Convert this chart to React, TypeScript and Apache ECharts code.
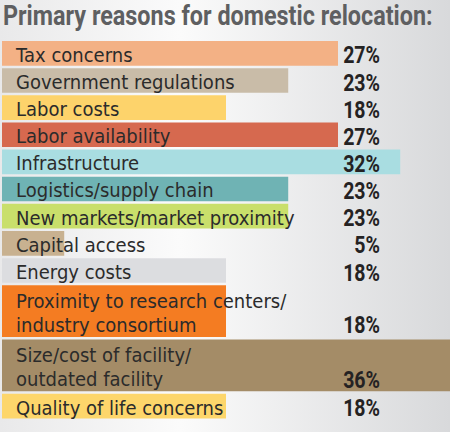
import React, { useEffect, useRef } from "react";
import * as echarts from "echarts";

const title = "Primary reasons for domestic relocation:";
const categories = [
  "Tax concerns",
  "Government regulations",
  "Labor costs",
  "Labor availability",
  "Infrastructure",
  "Logistics/supply chain",
  "New markets/market proximity",
  "Capital access",
  "Energy costs",
  "Proximity to research centers/\nindustry consortium",
  "Size/cost of facility/\noutdated facility",
  "Quality of life concerns",
];
const values = [27, 23, 18, 27, 32, 23, 23, 5, 18, 18, 36, 18];
const colors = [
  "#f3b185",
  "#c9bca8",
  "#fdd36b",
  "#d6694f",
  "#a9dde1",
  "#6fb3b4",
  "#c9df6b",
  "#c8b190",
  "#dcdde0",
  "#f47c22",
  "#a48c67",
  "#fdd66b",
];

const lineCounts = categories.map((c) => c.split("\n").length);
const slotStarts: number[] = [];
lineCounts.reduce((acc, n) => {
  slotStarts.push(acc);
  return acc + n;
}, 0);
const totalSlots = lineCounts.reduce((a, b) => a + b, 0);

function measure(text: string, font: string): number {
  const c = document.createElement("canvas").getContext("2d")!;
  c.font = font;
  return c.measureText(text).width;
}

export default function App() {
  const ref = useRef<HTMLDivElement>(null);
  useEffect(() => {
    const chart = echarts.init(ref.current!, null, { renderer: "svg" });
    const LINE_H = 24;
    const titleFont = "bold 28px Roboto";
    const titleScale = 430 / measure(title, titleFont);
    chart.setOption({
      animation: false,
      backgroundColor: {
        type: "linear",
        x: 0,
        y: 0,
        x2: 1,
        y2: 0,
        colorStops: [
          { offset: 0, color: "#e9e9ea" },
          { offset: 0.4, color: "#fbfbfb" },
          { offset: 1, color: "#d8d9db" },
        ],
      },
      graphic: [
        {
          type: "text",
          x: 3,
          y: 15,
          scaleX: titleScale,
          style: {
            text: title,
            fontFamily: "Roboto",
            fontWeight: "bold",
            fontSize: 28,
            fill: "#5e5f61",
            align: "left",
            verticalAlign: "middle",
          },
        },
      ],
      grid: { left: 2, right: 0, top: 41, bottom: 11 },
      xAxis: { type: "value", min: 0, max: 36, show: false },
      yAxis: { type: "value", min: 0, max: totalSlots, inverse: true, show: false },
      series: [
        {
          type: "custom",
          data: values.map((v, i) => [i, v]),
          renderItem: (params: any, api: any) => {
            const i = api.value(0);
            const v = api.value(1);
            const start = slotStarts[i];
            const span = lineCounts[i];
            const p0 = api.coord([0, start]);
            const p1 = api.coord([v, start + span]);
            const h = p1[1] - p0[1] - 2.5;
            const cy = p0[1] + h / 2;
            const valueY = span > 1 ? cy + (LINE_H * (span - 1)) / 2 : cy;
            return {
              type: "group",
              children: [
                {
                  type: "rect",
                  shape: { x: p0[0], y: p0[1], width: p1[0] - p0[0], height: h },
                  style: { fill: colors[i] },
                },
                {
                  type: "text",
                  x: p0[0] + 14,
                  y: cy + 1,
                  scaleX: 0.9,
                  style: {
                    text: categories[i],
                    x: 0,
                    y: 0,
                    align: "left",
                    verticalAlign: "middle",
                    fontFamily: "DejaVu Sans",
                    fontSize: 20,
                    lineHeight: LINE_H,
                    fill: "#2b2b2b",
                  },
                },
                {
                  type: "text",
                  x: 380,
                  y: valueY + 2,
                  scaleX: 0.85,
                  style: {
                    text: v + "%",
                    x: 0,
                    y: 0,
                    align: "right",
                    verticalAlign: "middle",
                    fontFamily: "Roboto",
                    fontWeight: "bold",
                    fontSize: 23,
                    fill: "#242223",
                  },
                },
              ],
            };
          },
        },
      ],
    });
    return () => chart.dispose();
  }, []);
  return (
    <div
      ref={ref}
      style={{ position: "absolute", left: 0, top: 0, width: 450, height: 432 }}
    />
  );
}
